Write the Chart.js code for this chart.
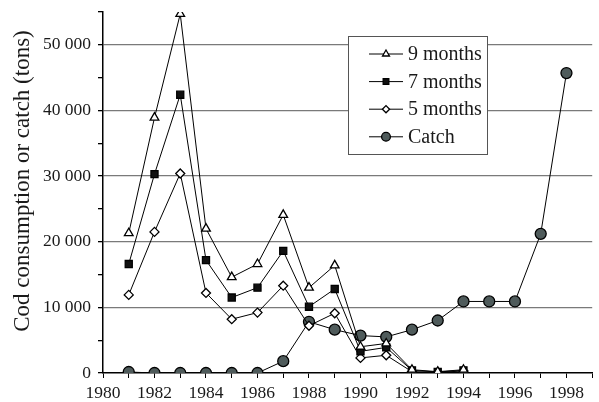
<!DOCTYPE html>
<html>
<head>
<meta charset="utf-8">
<script src="https://cdn.jsdelivr.net/npm/chart.js@4.4.0/dist/chart.umd.min.js"></script>
<style>
  html, body { margin: 0; padding: 0; background: #fff; }
  canvas { display: block; }
</style>
</head>
<body>
<canvas id="chart" width="599" height="402"></canvas>
<script>
const years = [1981, 1982, 1983, 1984, 1985, 1986, 1987, 1988, 1989, 1990, 1991, 1992, 1993, 1994, 1995, 1996, 1997, 1998];
const nineMonths = [21300, 38900, 54700, 22000, 14600, 16600, 24100, 13000, 16400, 4000, 4500, 500, 200, 500];
const sevenMonths = [16600, 30300, 42400, 17200, 11500, 13000, 18600, 10100, 12800, 3300, 3900, 400, 150, 400];
const fiveMonths = [11900, 21500, 30400, 12200, 8200, 9200, 13300, 7200, 9100, 2300, 2700, 200, 100, 300];
const catchTons = [150, 0, 0, 0, 0, 0, 1800, 7800, 6600, 5700, 5500, 6600, 8000, 10900, 10900, 10900, 21200, 45700];
const seriesNames = ['9 months', '7 months', '5 months', 'Catch'];
const yTitle = 'Cod consumption or catch (tons)';

const serif = "'Liberation Serif', 'Times New Roman', serif";
Chart.defaults.font.family = serif;

function pairs(values) {
    return values.map((v, i) => ({ x: years[i], y: v }));
}

function makeSet(label, values, style, fill, radius) {
    return {
        label: label,
        data: pairs(values),
        borderColor: '#000',
        borderWidth: 1,
        pointStyle: style,
        pointRadius: radius,
        pointBackgroundColor: fill,
        pointBorderColor: '#000',
        pointBorderWidth: 1.3,
        tension: 0,
        fill: false
    };
}

// legend box inside the plot (line through the marker) + rotated axis title
const boxLegend = {
    id: 'boxLegend',
    afterDraw(chart) {
        const ctx = chart.ctx;
        const left = 348, top = 36, w = 139, h = 118;
        ctx.save();
        ctx.fillStyle = '#fff';
        ctx.fillRect(left, top, w, h);
        ctx.strokeStyle = '#555';
        ctx.lineWidth = 1;
        ctx.strokeRect(left + 0.5, top + 0.5, w, h);
        chart.data.datasets.forEach((ds, i) => {
            const y = 54 + i * 27.6;
            ctx.strokeStyle = '#000';
            ctx.lineWidth = 1;
            ctx.beginPath();
            ctx.moveTo(369, y);
            ctx.lineTo(403, y);
            ctx.stroke();
            ctx.fillStyle = ds.pointBackgroundColor;
            ctx.strokeStyle = '#000';
            ctx.lineWidth = 1.3;
            Chart.helpers.drawPoint(ctx, {
                pointStyle: ds.pointStyle,
                radius: ds.pointRadius * 0.8,
                rotation: 0,
                borderWidth: 1.3
            }, 386, y);
            ctx.fillStyle = '#1a1a1a';
            ctx.font = '20px ' + serif;
            ctx.textBaseline = 'middle';
            ctx.textAlign = 'left';
            ctx.fillText(ds.label, 408, y + 1);
        });

        ctx.translate(23, 181);
        ctx.rotate(-Math.PI / 2);
        ctx.fillStyle = '#1a1a1a';
        ctx.font = '23px ' + serif;
        ctx.textAlign = 'center';
        ctx.textBaseline = 'middle';
        ctx.fillText(yTitle, 0, 0);
        ctx.restore();
    }
};

const config = {
    type: 'line',
    data: {
        datasets: [
            makeSet(seriesNames[0], nineMonths, 'triangle', '#fff', 5),
            makeSet(seriesNames[1], sevenMonths, 'rect', '#111', 5),
            makeSet(seriesNames[2], fiveMonths, 'rectRot', '#fff', 4.5),
            makeSet(seriesNames[3], catchTons, 'circle', '#4f5b5b', 5.5)
        ]
    },
    options: {
        responsive: false,
        animation: false,
        layout: { padding: { top: 12, right: 1, left: 0, bottom: 0 } },
        plugins: {
            legend: { display: false },
            tooltip: { enabled: false }
        },
        scales: {
            x: {
                type: 'linear',
                min: 1980,
                max: 1999,
                ticks: {
                    stepSize: 1,
                    autoSkip: false,
                    maxRotation: 0,
                    color: '#1a1a1a',
                    padding: 5,
                    font: { family: serif, size: 17.5 },
                    callback: v => (v % 2 === 0 && v < 1999) ? String(v) : ''
                },
                grid: {
                    drawOnChartArea: false,
                    tickLength: 5,
                    tickColor: '#000'
                },
                border: { color: '#000', width: 1.5 },
                afterFit: s => { s.height = 29; s.paddingLeft = 0; s.paddingRight = 0; }
            },
            y: {
                min: 0,
                max: 55000,
                ticks: {
                    stepSize: 5000,
                    color: '#1a1a1a',
                    padding: 7,
                    font: { family: serif, size: 17.5 },
                    callback: v => {
                        if (v % 10000 !== 0) return '';
                        if (v === 0) return '0';
                        return String(v / 1000) + ' 000';
                    }
                },
                grid: {
                    color: c => (c.tick && c.tick.value % 10000 === 0 && c.tick.value > 0) ? '#7a7a7a' : 'rgba(0,0,0,0)',
                    lineWidth: 1.3,
                    tickLength: 5,
                    tickColor: '#000'
                },
                border: { color: '#000', width: 1.5 },
                afterFit: s => { s.width = 103; s.paddingTop = 0; s.paddingBottom = 0; }
            }
        }
    },
    plugins: [boxLegend]
};

new Chart(document.getElementById('chart'), config);
</script>
</body>
</html>
